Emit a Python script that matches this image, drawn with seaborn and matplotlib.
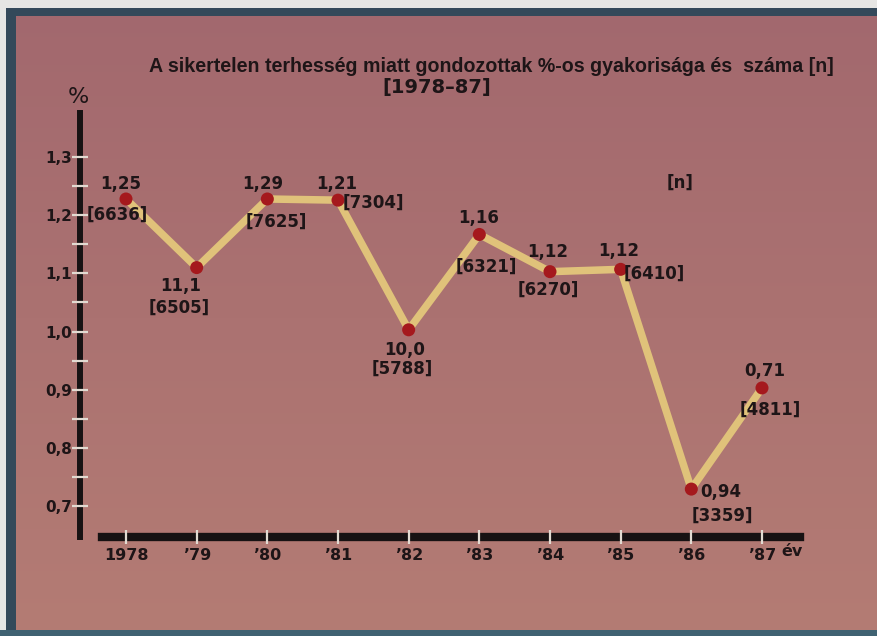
import numpy as np
import pandas as pd
import matplotlib
matplotlib.use("Agg")
import matplotlib.pyplot as plt
from matplotlib.patches import Rectangle
import seaborn as sns

# ---- data -------------------------------------------------------------
years = ["1978", "’79", "’80", "’81", "’82", "’83", "’84", "’85", "’86", "’87"]
pct = [1.228, 1.110, 1.228, 1.226, 1.003, 1.167, 1.103, 1.107, 0.729, 0.903]
pct_text = ["1,25", "11,1", "1,29", "1,21", "10,0", "1,16", "1,12", "1,12", "0,94", "0,71"]
cases = [6636, 6505, 7625, 7304, 5788, 6321, 6270, 6410, 3359, 4811]
y_major = [0.7, 0.8, 0.9, 1.0, 1.1, 1.2, 1.3]
y_minor = [0.75, 0.85, 0.95, 1.05, 1.15, 1.25]

title = "A sikertelen terhesség miatt gondozottak %-os gyakorisága és  száma [n]"
subtitle = "[1978–87]"

df = pd.DataFrame({"pos": np.arange(len(years)), "pct": pct})

# label offsets (pixels) for the percent text and the [n] text of each point
pct_off = [(-5, 15), (-16, -18), (-5, 15), (-1, 16), (-4, -20),
           (-1, 16), (-2, 20), (-2, 18), (29, -3), (3, 17)]
cnt_off = [(-9, -16), (-17, -40), (9, -23), (35, -3), (-6, -39),
           (7, -32), (-2, -18), (34, -4), (31, -27), (8, -22)]

# ---- style ------------------------------------------------------------
sns.set_style("ticks")
plt.rcParams["font.family"] = ["DejaVu Sans"]
INK = "#1e1517"
TICK = "#e2dbd2"
LINE = "#e0c27a"
DOT = "#a5191d"

W, H = 878, 636
fig = plt.figure(figsize=(W / 100, H / 100), dpi=100)

# paper background with a soft vertical tint and the dark frame
bg = fig.add_axes([0, 0, 1, 1], zorder=-10)
g = np.linspace(0, 1, 256)[:, None, None]
c_top = np.array([162, 104, 110]) / 255
c_bot = np.array([180, 124, 116]) / 255
bg.imshow(c_top + (c_bot - c_top) * g, aspect="auto", extent=[0, 1, 0, 1], origin="upper")
bg.add_patch(Rectangle((0, 1 - 16 / H), 1, 8 / H, color="#34495a", lw=0))
bg.add_patch(Rectangle((0, 1 - 8 / H), 1, 8 / H, color="#e6e6e4", lw=0))
bg.add_patch(Rectangle((6 / W, 0), 10 / W, 1 - 8 / H, color="#34495a", lw=0))
bg.add_patch(Rectangle((0, 0), 6 / W, 1, color="#e6e6e4", lw=0))
bg.add_patch(Rectangle((0, 0), 1, 6 / H, color="#3f6272", lw=0))
bg.set_xlim(0, 1)
bg.set_ylim(0, 1)
bg.axis("off")

# ---- main chart -------------------------------------------------------
ax = fig.add_axes([80 / W, 1 - 537 / H, 720 / W, 424 / H])
ax.set_facecolor("none")

sns.lineplot(data=df, x="pos", y="pct", ax=ax, color=LINE, linewidth=5.4,
             zorder=2.0, solid_capstyle="butt")
sns.scatterplot(data=df, x="pos", y="pct", ax=ax, color=DOT, s=88,
                edgecolor="none", linewidth=0, zorder=2.1)

ax.set_xlim(-0.651, 9.538)
ax.set_ylim(0.6466, 1.3759)
ax.set_xlabel("")
ax.set_ylabel("")

for side in ("top", "right"):
    ax.spines[side].set_visible(False)
for side, lw in (("left", 4.3), ("bottom", 6.0)):
    ax.spines[side].set_linewidth(lw)
    ax.spines[side].set_color("#171213")
    ax.spines[side].set_zorder(2.4)
ax.spines["bottom"].set_bounds(-0.34, 9.538)
# tick marks sit on top of the heavy axis bars
ax.xaxis.set_zorder(2.6)
ax.yaxis.set_zorder(2.6)

ax.set_yticks(y_major)
ax.set_yticks(y_minor, minor=True)
ax.set_yticklabels([f"{v:.1f}".replace(".", ",") for v in y_major])
ax.set_xticks(df["pos"])
ax.set_xticklabels(years)

ax.tick_params(axis="y", which="both", direction="inout", length=11, width=1.6,
               color=TICK, pad=0, labelsize=11, labelcolor=INK)
ax.tick_params(axis="x", direction="inout", length=10, width=1.6,
               color=TICK, pad=3, labelsize=11.5, labelcolor=INK)
for lab in ax.get_xticklabels() + ax.get_yticklabels():
    lab.set_fontweight("bold")

for i, (v, t, n) in enumerate(zip(pct, pct_text, cases)):
    ax.annotate(t, (i, v), xytext=pct_off[i], textcoords="offset pixels",
                ha="center", va="center", fontsize=12, fontweight="bold",
                color=INK, zorder=2.3)
    ax.annotate(f"[{n}]", (i, v), xytext=cnt_off[i], textcoords="offset pixels",
                ha="center", va="center", fontsize=12, fontweight="bold",
                color=INK, zorder=2.3)

# ---- headings and axis captions ----------------------------------------
fig.text(491 / W, 1 - 66 / H, title, ha="center", va="center",
         family=["Liberation Sans", "DejaVu Sans"], fontweight="bold",
         fontsize=14.1, color=INK)
fig.text(437 / W, 1 - 88 / H, subtitle, ha="center", va="center",
         fontweight="bold", fontsize=14, color=INK)
fig.text(78 / W, 1 - 97 / H, "%", ha="center", va="center", fontsize=16, color=INK)
fig.text(680 / W, 1 - 183 / H, "[n]", ha="center", va="center",
         fontweight="bold", fontsize=12, color=INK)
fig.text(781 / W, 1 - 552 / H, "év", ha="left", va="center",
         fontweight="bold", fontsize=11.5, color=INK)

fig.savefig("out.png", dpi=100)
